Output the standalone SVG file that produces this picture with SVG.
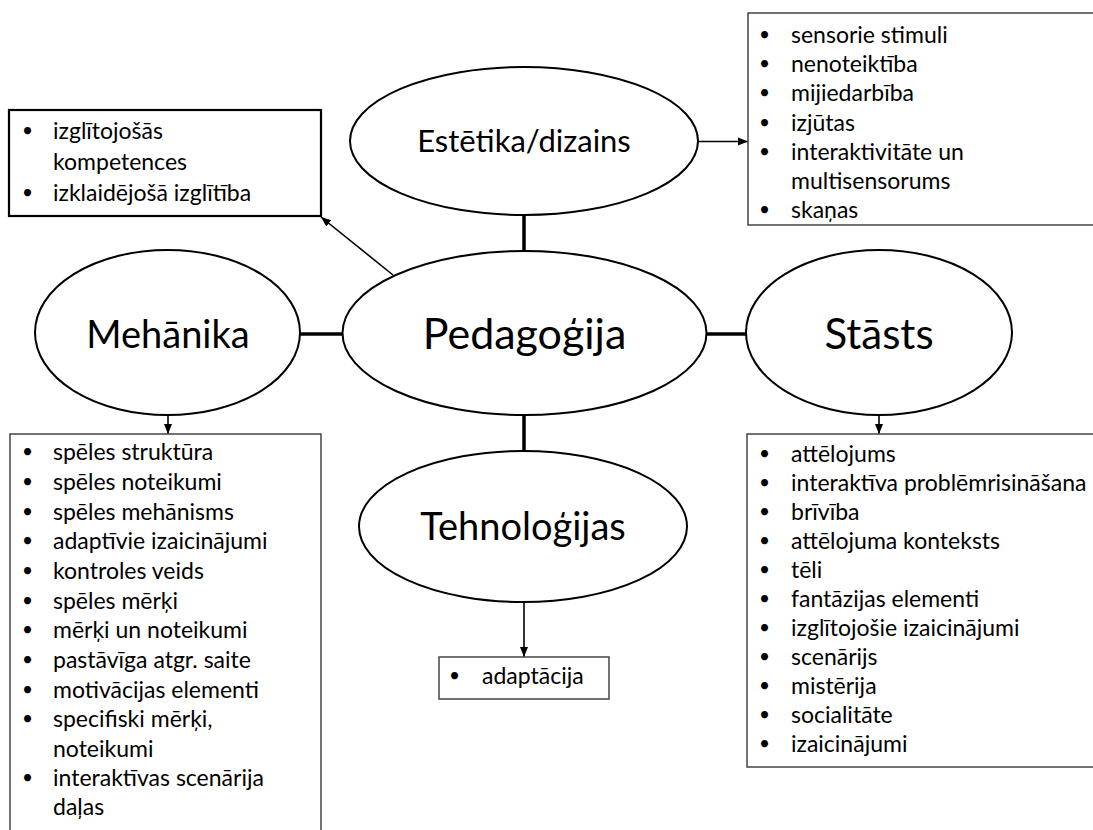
<svg xmlns="http://www.w3.org/2000/svg" width="1093" height="830" viewBox="0 0 1093 830">
<defs>
<style>
.el{fill:#fff;stroke:#000;stroke-width:2}
.big{font-family:Lato,"Liberation Sans",sans-serif;font-size:38px;fill:#000;text-anchor:middle}
.mid{font-family:Lato,"Liberation Sans",sans-serif;font-size:31px;fill:#000;text-anchor:middle}
.li{font-family:Lato,"Liberation Sans",sans-serif;font-size:23px;fill:#000}
.bu{font-family:Lato,"Liberation Sans",sans-serif;font-size:19px;fill:#000}
.bx{fill:#fff;stroke:#444;stroke-width:1.5}
.bxk{fill:#fff;stroke:#000;stroke-width:2.2}
.thick{stroke:#000;stroke-width:3.5;fill:none}
.arr{stroke:#000;stroke-width:1.6;fill:none;marker-end:url(#ah)}
</style>
<marker id="ah" markerUnits="userSpaceOnUse" markerWidth="10" markerHeight="10" viewBox="0 0 10 10" refX="10" refY="5" orient="auto">
<path d="M0,1 L10,5 L0,9 z" fill="#000"/>
</marker>
</defs>
<rect width="1093" height="830" fill="#fff"/>

<g id="connectors">
<line class="thick" x1="524" y1="214" x2="524" y2="252"/>
<line class="thick" x1="300" y1="334" x2="343" y2="334"/>
<line class="thick" x1="706" y1="334" x2="747" y2="334"/>
<line class="thick" x1="524" y1="414" x2="524" y2="452"/>
<line class="arr" x1="393" y1="275" x2="321" y2="217"/>
<line class="arr" x1="698" y1="141.5" x2="748" y2="141.5"/>
<line class="arr" x1="168" y1="415" x2="168" y2="434"/>
<line class="arr" x1="879" y1="415" x2="879" y2="434"/>
<line class="arr" x1="524" y1="602" x2="524" y2="657"/>
</g>

<g id="node-estetika">
<ellipse class="el" cx="524" cy="141" rx="174" ry="74"/>
<text class="mid" x="524" y="152">Estētika/dizains</text>
</g>

<g id="node-pedagogija">
<ellipse class="el" cx="524.5" cy="333" rx="182" ry="82"/>
<text class="big" x="524.5" y="349" style="font-size:43px">Pedagoģija</text>
</g>

<g id="node-mehanika">
<ellipse class="el" cx="167.5" cy="332.5" rx="132.5" ry="82.5"/>
<text class="big" x="168" y="348">Mehānika</text>
</g>

<g id="node-stasts">
<ellipse class="el" cx="879" cy="332.5" rx="133" ry="82.5"/>
<text class="big" x="879" y="349" style="font-size:42px">Stāsts</text>
</g>

<g id="node-tehnologijas">
<ellipse class="el" cx="523" cy="526.5" rx="164" ry="75.5"/>
<text class="big" x="523" y="540">Tehnoloģijas</text>
</g>

<g id="box-pedagogija">
<rect class="bxk" x="9" y="110" width="312" height="106"/>
<g class="bu"><text x="22" y="137">•</text><text x="22" y="199">•</text></g>
<g class="li">
<text x="53" y="139">izglītojošās</text>
<text x="53" y="170">kompetences</text>
<text x="53" y="201">izklaidējošā izglītība</text>
</g>
</g>

<g id="box-estetika">
<rect class="bx" x="748" y="13" width="360" height="212"/>
<g class="bu">
<text x="759" y="40.5">•</text><text x="759" y="70">•</text><text x="759" y="99">•</text><text x="759" y="128.5">•</text><text x="759" y="158">•</text><text x="759" y="216">•</text>
</g>
<g class="li">
<text x="791" y="42.5">sensorie stimuli</text>
<text x="791" y="72">nenoteiktība</text>
<text x="791" y="101">mijiedarbība</text>
<text x="791" y="130.5">izjūtas</text>
<text x="791" y="160">interaktivitāte un</text>
<text x="791" y="189">multisensorums</text>
<text x="791" y="218">skaņas</text>
</g>
</g>

<g id="box-mehanika">
<rect class="bx" x="10" y="434" width="311" height="420"/>
<g class="bu">
<text x="22" y="458">•</text><text x="22" y="488">•</text><text x="22" y="518">•</text><text x="22" y="547">•</text><text x="22" y="577">•</text><text x="22" y="607">•</text><text x="22" y="636">•</text><text x="22" y="666">•</text><text x="22" y="696">•</text><text x="22" y="725">•</text><text x="22" y="784">•</text>
</g>
<g class="li">
<text x="53" y="460">spēles struktūra</text>
<text x="53" y="490">spēles noteikumi</text>
<text x="53" y="520">spēles mehānisms</text>
<text x="53" y="549">adaptīvie izaicinājumi</text>
<text x="53" y="579">kontroles veids</text>
<text x="53" y="609">spēles mērķi</text>
<text x="53" y="638">mērķi un noteikumi</text>
<text x="53" y="668">pastāvīga atgr. saite</text>
<text x="53" y="698">motivācijas elementi</text>
<text x="53" y="727">specifiski mērķi,</text>
<text x="53" y="757">noteikumi</text>
<text x="53" y="786">interaktīvas scenārija</text>
<text x="53" y="815">daļas</text>
</g>
</g>

<g id="box-stasts">
<rect class="bx" x="747" y="434" width="360" height="333"/>
<g class="bu">
<text x="759" y="460">•</text><text x="759" y="489">•</text><text x="759" y="518">•</text><text x="759" y="547">•</text><text x="759" y="576">•</text><text x="759" y="605">•</text><text x="759" y="634">•</text><text x="759" y="663">•</text><text x="759" y="692">•</text><text x="759" y="721">•</text><text x="759" y="750">•</text>
</g>
<g class="li">
<text x="791" y="462">attēlojums</text>
<text x="791" y="491">interaktīva problēmrisināšana</text>
<text x="791" y="520">brīvība</text>
<text x="791" y="549">attēlojuma konteksts</text>
<text x="791" y="578">tēli</text>
<text x="791" y="607">fantāzijas elementi</text>
<text x="791" y="636">izglītojošie izaicinājumi</text>
<text x="791" y="665">scenārijs</text>
<text x="791" y="694">mistērija</text>
<text x="791" y="723">socialitāte</text>
<text x="791" y="752">izaicinājumi</text>
</g>
</g>

<g id="box-tehnologijas">
<rect class="bx" x="439" y="657" width="170" height="42"/>
<g class="bu"><text x="449" y="682">•</text></g>
<g class="li"><text x="482" y="684">adaptācija</text></g>
</g>
</svg>
